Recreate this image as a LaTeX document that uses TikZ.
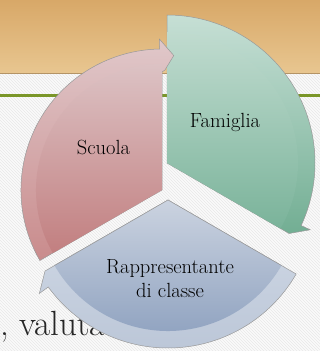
\documentclass[tikz,border=0pt]{standalone}
\usetikzlibrary{patterns}
\definecolor{beigeTop}{HTML}{D8A868}
\definecolor{beigeBot}{HTML}{E8C690}
\definecolor{beigeLine}{HTML}{B49466}
\definecolor{oliveLine}{HTML}{7A9628}
\definecolor{redBandTop}{HTML}{E0C8CA}
\definecolor{redBandBot}{HTML}{C98B8C}
\definecolor{redWedTop}{HTML}{DCC2C4}
\definecolor{redWedBot}{HTML}{C27F80}
\definecolor{grnBandTop}{HTML}{C6DFD5}
\definecolor{grnBandBot}{HTML}{72AE93}
\definecolor{grnWedTop}{HTML}{C0DBCF}
\definecolor{grnWedBot}{HTML}{7AB39A}
\definecolor{bluBandTop}{HTML}{D3DBE7}
\definecolor{bluBandBot}{HTML}{BCC7D8}
\definecolor{bluWedTop}{HTML}{CBD3E0}
\definecolor{bluWedBot}{HTML}{8A9EBD}
\begin{document}
\begin{tikzpicture}[x=1pt,y=1pt,
  lbl/.style={font=\fontsize{20.5}{24}\selectfont, text=black, align=center, inner sep=0pt},
  edge/.style={draw=black!40, line width=0.5pt}]
\useasboundingbox (0,0) rectangle (320,351);
% background
\fill[black!2] (0,0) rectangle (320,278);
\fill[pattern=north west lines, pattern color=black!9] (0,0) rectangle (320,278);
\shade[top color=beigeTop, bottom color=beigeBot] (0,278) rectangle (320,351);
\draw[beigeLine, line width=0.8pt] (0,278) -- (320,278);
\fill[oliveLine] (0,253.5) rectangle (320,256.5);
\node[anchor=base west, font=\fontsize{35}{40}\selectfont, text=black!85, inner sep=0pt] (txt) at (0,16) {, valuta};
% green segment
\begin{scope}[shift={(167,188)}]
  \shade[top color=grnBandTop, bottom color=grnBandBot, edge]
    (0,0) -- (90:148pt) arc[start angle=90, end angle=-25, radius=148pt]
    -- (-25:158pt) -- (-30:141pt) -- cycle;
  \shade[top color=grnWedTop, bottom color=grnWedBot]
    (0,0) -- (90:131pt) arc[start angle=90, end angle=-30, radius=131pt] -- cycle;
\end{scope}
% red segment
\begin{scope}[shift={(162,161)}]
  \shade[top color=redBandTop, bottom color=redBandBot, edge]
    (0,0) -- (210:141pt) arc[start angle=210, end angle=91, radius=141pt]
    -- (91:151pt) -- (85:135pt) -- (88.6:120pt) -- (90:118pt) -- cycle;
  \shade[top color=redWedTop, bottom color=redWedBot]
    (0,0) -- (210:126pt) arc[start angle=210, end angle=90, radius=126pt] -- cycle;
\end{scope}
% blue segment
\begin{scope}[shift={(168,151)}]
  \shade[top color=bluBandTop, bottom color=bluBandBot, edge]
    (0,0) -- (330:148pt) arc[start angle=330, end angle=216, radius=148pt]
    -- (216:159pt) -- (210:142pt) -- cycle;
  \shade[top color=bluWedTop, bottom color=bluWedBot]
    (0,0) -- (330:131pt) arc[start angle=330, end angle=210, radius=131pt] -- cycle;
  \draw[edge] (210:131pt) -- (0,0) -- (330:131pt);
\end{scope}
% labels
\node[lbl, anchor=base] (fam) at (225,223) {Famiglia};
\node[lbl, anchor=base] (scu) at (103.5,196) {Scuola};
\node[lbl] (rap) at (170,72) {Rappresentante\\di classe};
\end{tikzpicture}
\end{document}
